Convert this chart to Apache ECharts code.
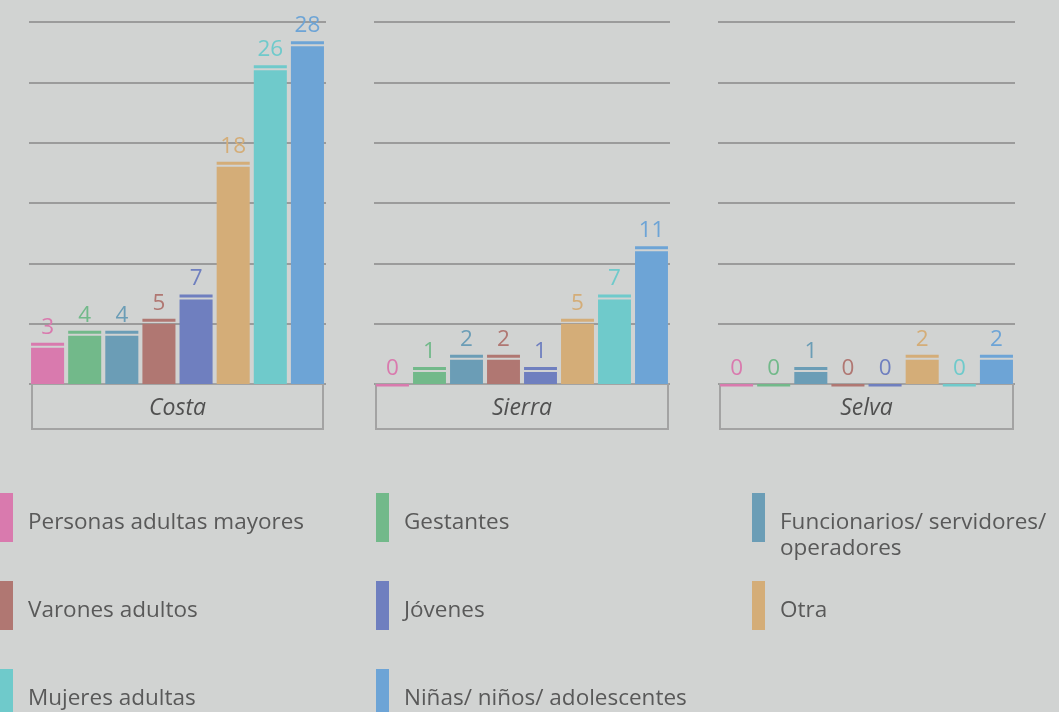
<!DOCTYPE html>
<html>
<head>
<meta charset="utf-8">
<script src="https://cdn.jsdelivr.net/npm/echarts@6/dist/echarts.min.js"></script>
<style>
  html, body { margin: 0; padding: 0; background: #d1d3d2; }
  #chart { width: 1059px; height: 712px; }
</style>
</head>
<body>
<div id="chart"></div>
<script>
// datos por región
const regions = ["Costa", "Sierra", "Selva"];
const groups = [
  "Personas adultas mayores",
  "Gestantes",
  "Funcionarios/ servidores/\noperadores",
  "Varones adultos",
  "Jóvenes",
  "Otra",
  "Mujeres adultas",
  "Niñas/ niños/ adolescentes"
];
const costa = [3, 4, 4, 5, 7, 18, 26, 28];
const sierra = [0, 1, 2, 2, 1, 5, 7, 11];
const selva = [0, 0, 1, 0, 0, 2, 0, 2];
const yMax = 30;
const yStep = 5;

const colors = ["#d97aae", "#72b98a", "#6b9db6", "#b07772", "#6f7fbf", "#d4ad78", "#6fcacb", "#6da4d6"];
const values = [costa, sierra, selva];
const FONT = "'Open Sans', 'Noto Sans', sans-serif";

const grids = [
  { left: 29, top: 22, width: 297, height: 362 },
  { left: 374, top: 22, width: 296, height: 362 },
  { left: 718, top: 22, width: 297, height: 362 }
];
const boxW = [289, 290, 291];

function renderBar(params, api) {
  const idx = api.value(0);
  const v = api.value(1);
  const base = api.coord([idx, 0]);
  const top = api.coord([idx, v]);
  const bw = api.size([1, 0])[0] * 0.89;
  const x = base[0] - bw / 2;
  const color = api.visual("color");
  const children = [];
  let capY;
  if (v > 0) {
    children.push({ type: "rect", shape: { x: x, y: top[1], width: bw, height: base[1] - top[1] }, style: { fill: color } });
    capY = top[1] - 5;
    children.push({ type: "rect", shape: { x: x, y: capY, width: bw, height: 3 }, style: { fill: color } });
  } else {
    capY = base[1];
    children.push({ type: "rect", shape: { x: x, y: capY, width: bw, height: 2.5 }, style: { fill: color } });
  }
  children.push({
    type: "text",
    style: {
      text: String(v), x: base[0], y: capY - 4,
      align: "center", verticalAlign: "bottom",
      fill: color, fontSize: 22.5, fontFamily: FONT
    }
  });
  return { type: "group", children: children };
}

const xAxis = [];
const yAxis = [];
const series = [];
regions.forEach(function (r, g) {
  xAxis.push({ gridIndex: g, type: "category", data: groups, show: false });
  xAxis.push({
    gridIndex: g, type: "category", data: [r], position: "bottom",
    axisLine: { show: false }, axisTick: { show: false },
    axisLabel: {
      margin: 1, fontStyle: "italic", fontSize: 23, color: "#505050", fontFamily: FONT,
      width: boxW[g], height: 43, lineHeight: 47, align: "center", verticalAlign: "top",
      borderColor: "#a3a3a3", borderWidth: 2, backgroundColor: "#d1d3d2"
    }
  });
  yAxis.push({
    gridIndex: g, type: "value", min: 0, max: yMax, interval: yStep,
    axisLabel: { show: false }, axisLine: { show: false }, axisTick: { show: false },
    splitLine: { lineStyle: { color: "#9b9b9b", width: 2 } }
  });
  groups.forEach(function (name, i) {
    series.push({
      type: "custom", name: name,
      xAxisIndex: g * 2, yAxisIndex: g,
      itemStyle: { color: colors[i] },
      renderItem: renderBar,
      data: [[i, values[g][i]]]
    });
  });
});

// icono: barra 13x49 con espacio vacío debajo para bajar el texto
function legendItem(left, top, name, drop) {
  const h = 49 + drop;
  return {
    left: left, top: top, orient: "vertical", padding: 0,
    itemWidth: 13, itemHeight: h,
    icon: "path://M0,0L13,0L13,49L0,49ZM0," + h + "L13," + h,
    itemStyle: { borderWidth: 0 },
    selectedMode: false,
    data: [name],
    textStyle: { fontSize: 22.5, color: "#595959", fontFamily: FONT, lineHeight: 26, padding: [0, 0, 0, 10] }
  };
}

const chart = echarts.init(document.getElementById("chart"));
chart.setOption({
  backgroundColor: "#d1d3d2",
  animation: false,
  textStyle: { fontFamily: FONT },
  grid: grids,
  xAxis: xAxis,
  yAxis: yAxis,
  legend: [
    legendItem(0, 493, groups[0], 10),
    legendItem(376, 493, groups[1], 10),
    legendItem(752, 493, groups[2], 36),
    legendItem(0, 581, groups[3], 10),
    legendItem(376, 581, groups[4], 10),
    legendItem(752, 581, groups[5], 10),
    legendItem(0, 669, groups[6], 10),
    legendItem(376, 669, groups[7], 10)
  ],
  series: series
});
</script>
</body>
</html>
